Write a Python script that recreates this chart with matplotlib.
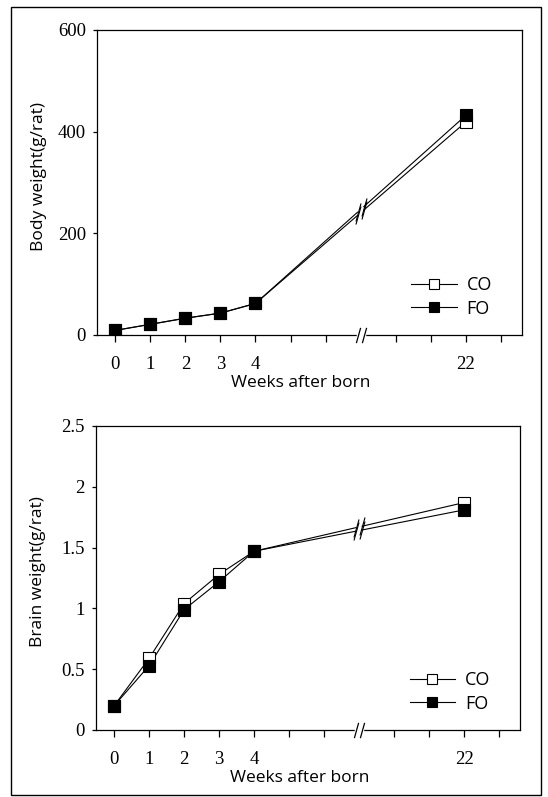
import numpy as np
import matplotlib

matplotlib.use("Agg")
import matplotlib.pyplot as plt
from matplotlib.lines import Line2D
from matplotlib.patches import Rectangle
from matplotlib.path import Path

# broken x axis: weeks 0-4, then a break, then week 22
week_labels = ["0", "1", "2", "3", "4", "22"]
week_pos = [0, 1, 2, 3, 4, 10]
tick_pos = [0, 1, 2, 3, 4, 5, 6, 8, 9, 10, 11]
break_pos = 7

body_co = [9, 21, 33, 43, 62, 419]
body_fo = [9, 21, 33, 43, 62, 432]
brain_co = [0.20, 0.59, 1.04, 1.28, 1.47, 1.87]
brain_fo = [0.20, 0.53, 0.99, 1.22, 1.47, 1.81]

body_ticks = [0, 200, 400, 600]
brain_ticks = [0, 0.5, 1, 1.5, 2, 2.5]
brain_tick_labels = ["0", "0.5", "1", "1.5", "2", "2.5"]

TEXT_FONT = "Open Sans"
NUM_FONT = "Liberation Serif"
GAP = 0.09
SLASH = Path([(-0.28, -1.0), (0.28, 1.0)], [Path.MOVETO, Path.LINETO])
LW = 0.8


def draw_series(ax, values, face):
    xs = np.array(week_pos, dtype=float)
    ys = np.array(values, dtype=float)
    yb = np.interp([break_pos - GAP, break_pos + GAP], xs, ys)
    ax.plot(list(xs[:5]) + [break_pos - GAP], list(ys[:5]) + [yb[0]], color="black", lw=LW, zorder=2)
    ax.plot([break_pos + GAP, xs[5]], [yb[1], ys[5]], color="black", lw=LW, zorder=2)
    ax.plot([break_pos - GAP, break_pos + GAP], yb, ls="none", marker=SLASH, ms=13,
            mec="black", mew=LW, zorder=2)
    ax.plot(xs, ys, ls="none", marker="s", ms=8, mfc=face, mec="black", mew=LW, zorder=3)


def style_axes(ax, ymax, yticks, ytick_labels, ylabel):
    ax.set_xlim(-0.52, 11.6)
    ax.set_ylim(0, ymax)
    ax.set_xticks(tick_pos)
    ax.set_xticklabels([week_labels[week_pos.index(p)] if p in week_pos else "" for p in tick_pos])
    ax.set_yticks(yticks)
    ax.set_yticklabels(ytick_labels)
    ax.tick_params(axis="x", direction="out", length=5, width=0.9, pad=10, labelsize=13.5)
    ax.tick_params(axis="y", direction="out", length=3, width=0.9, pad=5, labelsize=13.5)
    for lab in ax.get_xticklabels() + ax.get_yticklabels():
        lab.set_fontfamily(NUM_FONT)
    for sp in ax.spines.values():
        sp.set_linewidth(0.9)

    # break marks on the x axis
    ax.plot([break_pos - GAP, break_pos + GAP], [0, 0], color="white", lw=2.5,
            clip_on=False, zorder=3)
    ax.plot([break_pos - GAP, break_pos + GAP], [0, 0], ls="none", marker=SLASH, ms=11,
            mec="black", mew=0.9, clip_on=False, zorder=4)

    ax.set_xlabel("Weeks after born", fontfamily=TEXT_FONT, fontsize=12.5)
    ax.xaxis.set_label_coords(0.48, -0.132)
    ax.set_ylabel(ylabel, fontfamily=TEXT_FONT, fontsize=12.5)
    ax.yaxis.set_label_coords(-0.118, 0.52)

    handles = [
        Line2D([], [], color="black", lw=LW, marker="s", ms=7, mfc="white", mec="black", mew=LW),
        Line2D([], [], color="black", lw=LW, marker="s", ms=7, mfc="black", mec="black", mew=LW),
    ]
    leg = ax.legend(handles, ["CO", "FO"], loc="center left", bbox_to_anchor=(0.74, 0.125),
                    frameon=False, borderpad=0, borderaxespad=0, handlelength=2.5,
                    handletextpad=0.55, labelspacing=0.3, numpoints=1,
                    prop={"family": TEXT_FONT, "size": 13})
    return leg


fig = plt.figure(figsize=(5.48, 7.97), dpi=100)

ax_body = fig.add_axes([0.177, 0.5797, 0.7755, 0.3827])
draw_series(ax_body, body_co, "white")
draw_series(ax_body, body_fo, "black")
style_axes(ax_body, 600, body_ticks, [str(t) for t in body_ticks], "Body weight(g/rat)")

ax_brain = fig.add_axes([0.1752, 0.0841, 0.7737, 0.3814])
draw_series(ax_brain, brain_co, "white")
draw_series(ax_brain, brain_fo, "black")
style_axes(ax_brain, 2.5, brain_ticks, brain_tick_labels, "Brain weight(g/rat)")

# page frame around both panels
fig.add_artist(Rectangle((0.02, 0.002), 0.967, 0.989, transform=fig.transFigure,
                         fill=False, lw=1.0, ec="black"))

fig.savefig("out.png", dpi=100)
plt.close(fig)
